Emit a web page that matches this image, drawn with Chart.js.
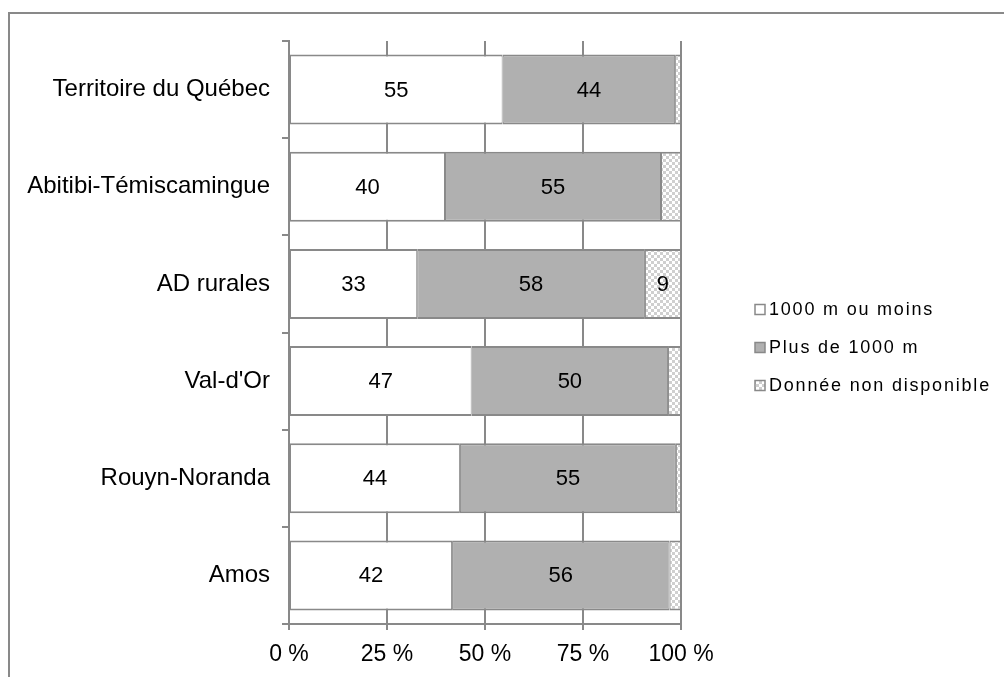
<!DOCTYPE html>
<html>
<head>
<meta charset="utf-8">
<script src="https://cdn.jsdelivr.net/npm/chart.js@4"></script>
<style>
  body { margin: 0; background: #fff; }
  #wrap { position: relative; width: 1004px; height: 677px; }
</style>
</head>
<body>
<div id="wrap"><canvas id="chart" width="1004" height="677"></canvas></div>
<script>
// Data (percent of each zone)
const categories = ['Territoire du Québec', 'Abitibi-Témiscamingue', 'AD rurales', "Val-d'Or", 'Rouyn-Noranda', 'Amos'];
const seriesNames = ['1000 m ou moins', 'Plus de 1000 m', 'Donnée non disponible'];
const nearValues = [54.5, 39.8, 32.7, 46.6, 43.6, 41.6];
const farValues = [44.0, 55.1, 58.1, 50.1, 55.1, 55.5];
const naValues = [1.5, 5.1, 9.2, 3.3, 1.3, 2.9];
const xTicks = [0, 25, 50, 75, 100];

const FONT = '"Liberation Sans", Arial, sans-serif';
const GRAY = '#898989';

// checkered fill for the "not available" series
function checkerPattern() {
    const c = document.createElement('canvas');
    c.width = 6; c.height = 6;
    const g = c.getContext('2d');
    g.fillStyle = '#ffffff';
    g.fillRect(0, 0, 6, 6);
    g.fillStyle = '#cfcfcf';
    g.fillRect(0, 0, 3, 3);
    g.fillRect(3, 3, 3, 3);
    return g.createPattern(c, 'repeat');
}

// outer frame of the picture
const frame = {
    id: 'frame',
    beforeDraw(chart) {
        const ctx = chart.ctx;
        ctx.save();
        ctx.strokeStyle = GRAY;
        ctx.lineWidth = 2;
        ctx.strokeRect(9, 13, 1200, 1000);
        ctx.restore();
    }
};

// value labels in the middle of each segment
const barLabels = {
    id: 'barLabels',
    afterDatasetsDraw(chart) {
        const ctx = chart.ctx;
        ctx.save();
        ctx.font = '22px ' + FONT;
        ctx.fillStyle = '#000';
        ctx.textAlign = 'center';
        ctx.textBaseline = 'middle';
        chart.data.datasets.forEach((ds, i) => {
            chart.getDatasetMeta(i).data.forEach((bar, j) => {
                const v = ds.data[j];
                if (v < 7) return;
                const p = bar.getProps(['x', 'y', 'base'], true);
                ctx.fillText(Math.round(v), (p.x + p.base) / 2, p.y + 1);
            });
        });
        ctx.restore();
    }
};

// legend on the right, Excel style
const sideLegend = {
    id: 'sideLegend',
    afterDraw(chart) {
        const ctx = chart.ctx;
        const area = chart.chartArea;
        const x0 = area.right + 74;
        const y0 = (area.top + area.bottom) / 2 - 23;
        ctx.save();
        ctx.font = '18px ' + FONT;
        ctx.letterSpacing = '1.8px';
        ctx.textBaseline = 'middle';
        chart.data.datasets.forEach((ds, i) => {
            const y = y0 + i * 38;
            ctx.fillStyle = ds.backgroundColor;
            ctx.fillRect(x0, y - 5, 10, 10);
            ctx.strokeStyle = GRAY;
            ctx.lineWidth = 1.5;
            ctx.strokeRect(x0, y - 5, 10, 10);
            ctx.fillStyle = '#000';
            ctx.fillText(ds.label, x0 + 14, y + 1);
        });
        ctx.restore();
    }
};

const barStyle = {
    borderColor: GRAY,
    borderWidth: { top: 2, bottom: 2, left: 1, right: 1 },
    borderSkipped: false,
    barPercentage: 0.72,
    categoryPercentage: 1
};

new Chart(document.getElementById('chart'), {
    type: 'bar',
    data: {
        labels: categories,
        datasets: [
            { label: seriesNames[0], data: nearValues, backgroundColor: '#ffffff', ...barStyle },
            { label: seriesNames[1], data: farValues, backgroundColor: '#b0b0b0', ...barStyle },
            { label: seriesNames[2], data: naValues, backgroundColor: checkerPattern(), ...barStyle }
        ]
    },
    options: {
        indexAxis: 'y',
        responsive: false,
        animation: false,
        devicePixelRatio: 1,
        layout: { padding: { top: 41, right: 323, bottom: 0, left: 0 } },
        plugins: {
            legend: { display: false },
            tooltip: { enabled: false }
        },
        scales: {
            x: {
                stacked: true,
                min: 0,
                max: 100,
                afterBuildTicks: s => { s.ticks = xTicks.map(v => ({ value: v })); },
                afterFit: s => { s.height = 53; },
                grid: { color: GRAY, lineWidth: 2, tickLength: 6 },
                border: { color: GRAY, width: 2 },
                ticks: {
                    color: '#000',
                    font: { size: 23, family: FONT },
                    padding: 11,
                    maxRotation: 0,
                    autoSkip: false,
                    callback: v => v + ' %'
                }
            },
            y: {
                stacked: true,
                afterFit: s => { s.width = 289; },
                grid: { offset: true, drawOnChartArea: false, color: GRAY, lineWidth: 2, tickLength: 7 },
                border: { color: GRAY, width: 2 },
                ticks: {
                    color: '#000',
                    font: { size: 24, family: FONT },
                    padding: 12
                }
            }
        }
    },
    plugins: [frame, barLabels, sideLegend]
});
</script>
</body>
</html>
